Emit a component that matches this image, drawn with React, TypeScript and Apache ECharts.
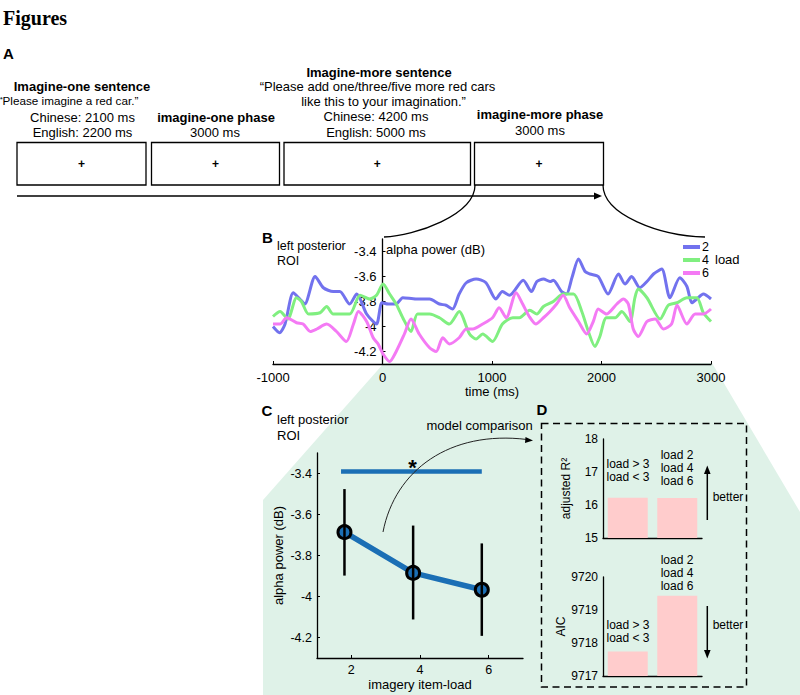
import React, { useEffect, useRef } from "react";
import * as echarts from "echarts";

const FONT = "'Liberation Sans', Arial, Helvetica, sans-serif";

// Panel B: alpha power time courses
const tLoad2 = [-1000, -940, -890, -815, -755, -710, -615, -540, -450, -390, -300, -235, -145, -55, -5, 55, 125, 185, 305, 430, 520, 580, 640, 700, 765, 855, 945, 1035, 1095, 1160, 1285, 1360, 1410, 1470, 1530, 1560, 1635, 1680, 1730, 1790, 1850, 1895, 1970, 2060, 2155, 2215, 2275, 2350, 2415, 2475, 2550, 2625, 2715, 2780, 2825, 2870, 2930, 3000];
const vLoad2 = [-4.0, -4.05, -3.98, -3.73, -3.78, -3.82, -3.6, -3.69, -3.72, -3.72, -3.82, -3.74, -3.9, -3.98, -3.81, -3.82, -3.82, -3.77, -3.78, -3.78, -3.82, -3.83, -3.86, -3.74, -3.65, -3.62, -3.65, -3.78, -3.72, -3.75, -3.63, -3.72, -3.64, -3.62, -3.64, -3.63, -3.72, -3.74, -3.61, -3.46, -3.56, -3.58, -3.6, -3.74, -3.58, -3.66, -3.6, -3.69, -3.64, -3.58, -3.54, -3.77, -3.61, -3.68, -3.81, -3.78, -3.74, -3.78];

const tLoad4 = [-1000, -935, -865, -785, -740, -675, -570, -510, -450, -300, -205, -115, -55, 5, 65, 125, 185, 260, 320, 430, 520, 610, 700, 795, 855, 915, 1005, 1095, 1190, 1250, 1345, 1410, 1470, 1560, 1650, 1745, 1820, 1880, 1940, 1985, 2045, 2125, 2185, 2260, 2305, 2335, 2415, 2535, 2610, 2690, 2780, 2870, 2930, 3000];
const vLoad4 = [-3.92, -3.88, -3.94, -3.77, -3.8, -3.9, -3.89, -3.84, -3.9, -3.9, -3.75, -3.78, -3.75, -3.66, -3.74, -3.82, -3.93, -4.04, -3.9, -3.9, -3.93, -3.98, -3.88, -4.06, -4.1, -4.06, -4.12, -3.98, -3.93, -3.93, -3.87, -3.9, -3.84, -3.8, -3.74, -3.74, -3.88, -4.04, -4.16, -4.08, -3.93, -3.93, -3.88, -3.96, -3.77, -3.7, -3.77, -3.94, -3.83, -3.81, -3.77, -3.77, -3.89, -3.96];

const tLoad6 = [-1000, -935, -875, -785, -725, -660, -600, -510, -420, -330, -265, -220, -145, -85, -40, 5, 65, 125, 200, 260, 335, 430, 490, 550, 610, 700, 765, 825, 915, 1005, 1065, 1130, 1220, 1280, 1340, 1400, 1470, 1530, 1590, 1650, 1710, 1790, 1865, 1925, 1970, 2045, 2140, 2200, 2245, 2290, 2335, 2415, 2490, 2565, 2640, 2690, 2780, 2855, 2930, 3000];
const vLoad6 = [-3.98, -3.98, -3.93, -3.97, -3.98, -4.04, -4.02, -3.98, -4.04, -4.12, -3.98, -3.88, -3.96, -4.09, -4.14, -4.22, -4.28, -4.2, -4.06, -3.94, -4.06, -4.17, -4.2, -4.09, -4.14, -4.09, -4.02, -4.02, -3.98, -3.93, -3.85, -3.93, -3.73, -3.82, -3.92, -3.98, -3.93, -3.88, -3.82, -3.75, -3.85, -3.96, -4.06, -3.96, -3.86, -3.9, -3.82, -3.78, -3.82, -4.02, -4.08, -3.96, -3.94, -4.02, -3.98, -3.83, -3.98, -3.9, -3.9, -3.86];

const bXTicks = [-1000, 0, 1000, 2000, 3000];
const alphaTicks = [-4.2, -4, -3.8, -3.6, -3.4];

// Panel C: mean alpha power by item-load
const loadX = [1.8, 3.8, 5.8];
const loadTicks = [2, 4, 6];
const loadMean = [-3.686, -3.885, -3.967];
const errHigh = [-3.476, -3.654, -3.741];
const errLow = [-3.898, -4.112, -4.192];
const sigX = [1.7, 5.8];
const sigY = -3.39;

// Panel D: model comparison
const models = ["load > 3 / load < 3", "load 2 / load 4 / load 6"];
const adjR2 = [16.22, 16.21];
const aic = [9717.74, 9719.43];

const BLUE_C = "#1b6fb5";

const plain = (v: number) => String(v);

function txt(text: string, x: number, y: number, size = 13, extra: any = {}) {
  const align = extra.align || "center";
  return {
    type: "text",
    x,
    y,
    z: 50,
    style: {
      text,
      fontSize: size,
      fontFamily: FONT,
      fontWeight: extra.bold ? "bold" : "normal",
      fill: "#000",
      align,
      textAlign: align,
      verticalAlign: "middle",
      textVerticalAlign: "middle",
      ...(extra.style || {}),
    },
  };
}

function seg(x1: number, y1: number, x2: number, y2: number, w = 1.3, extra: any = {}) {
  return {
    type: "line",
    z: 50,
    shape: { x1, y1, x2, y2 },
    style: { stroke: "#000", lineWidth: w, ...extra },
  };
}

function tri(points: number[][]) {
  return { type: "polygon", z: 50, shape: { points }, style: { fill: "#000" } };
}

function box(x: number, y: number, w: number, h: number) {
  return {
    type: "rect",
    z: 50,
    shape: { x, y, width: w, height: h },
    style: { fill: "#fff", stroke: "#000", lineWidth: 1.3 },
  };
}

export default function App() {
  const ref = useRef<HTMLDivElement>(null);

  useEffect(() => {
    if (!ref.current) return;
    const chart = echarts.init(ref.current, null, { renderer: "svg" });

    const axisLine = { lineStyle: { color: "#000", width: 1.3 } };
    const pairs = (t: number[], v: number[]) => t.map((x, i) => [x, v[i]]);

    const boxes = [
      [17, 142.5, 129, 42.5],
      [151.5, 142.5, 128, 42.5],
      [284, 142.5, 186.5, 42.5],
      [474.5, 142.5, 129, 42.5],
    ];

    const graphic: any[] = [
      // green connector area behind panels C and D
      {
        type: "polygon",
        z: -10,
        silent: true,
        shape: {
          points: [
            [384, 363],
            [712, 363],
            [800, 512],
            [800, 695],
            [263, 695],
            [263, 500],
          ],
        },
        style: { fill: "#dff2e8" },
      },
      {
        type: "text",
        x: 3,
        y: 18,
        z: 50,
        style: {
          text: "Figures",
          fontSize: 20,
          fontWeight: "bold",
          fontFamily: "'Liberation Serif', 'Times New Roman', serif",
          fill: "#000",
          align: "left",
          textAlign: "left",
          verticalAlign: "middle",
          textVerticalAlign: "middle",
        },
      },
      txt("A", 3, 53.5, 15, { bold: true, align: "left" }),
      txt("Imagine-one sentence", 82, 86, 13, { bold: true }),
      txt("\u201CPlease imagine a red car.\u201D", 68.5, 100.5, 11.7),
      txt("Chinese: 2100 ms", 82.5, 117, 13),
      txt("English: 2200 ms", 82.5, 132.5, 13),
      txt("imagine-one phase", 216, 117, 13, { bold: true }),
      txt("3000 ms", 215, 132.5, 13),
      txt("Imagine-more sentence", 379, 72.5, 13, { bold: true }),
      txt("\u201CPlease add one/three/five more red cars", 377.5, 86.5, 13),
      txt("like this to your imagination.\u201D", 383.5, 101, 13),
      txt("Chinese: 4200 ms", 376, 116.5, 13),
      txt("English: 5000 ms", 376, 132, 13),
      txt("imagine-more phase", 540, 114, 13, { bold: true }),
      txt("3000 ms", 540, 130, 13),
      ...boxes.map((b) => box(b[0], b[1], b[2], b[3])),
      ...boxes.map((b) => txt("+", b[0] + b[2] / 2, 164, 12, { bold: true })),
      seg(17, 196, 596, 196, 1.4),
      tri([
        [602, 196],
        [594, 192.5],
        [594, 199.5],
      ]),
      {
        type: "bezierCurve",
        z: 50,
        shape: { x1: 475, y1: 185, cpx1: 475, cpy1: 215, cpx2: 415, cpy2: 236, x2: 384, y2: 237 },
        style: { stroke: "#000", lineWidth: 1.3, fill: "none" },
      },
      {
        type: "bezierCurve",
        z: 50,
        shape: { x1: 603, y1: 185, cpx1: 603, cpy1: 215, cpx2: 660, cpy2: 236, x2: 705, y2: 237 },
        style: { stroke: "#000", lineWidth: 1.3, fill: "none" },
      },
      // Panel B labels
      txt("B", 262, 237, 15, { bold: true, align: "left" }),
      txt("left posterior\nROI", 277, 253.5, 12.5, { align: "left", style: { lineHeight: 14.5 } }),
      txt("alpha power (dB)", 386, 249, 13, { align: "left" }),
      txt("load", 715, 259.5, 13, { align: "left" }),
      // Panel C labels
      txt("C", 261.5, 410, 15, { bold: true, align: "left" }),
      txt("left posterior\nROI", 277, 427, 13, { align: "left", style: { lineHeight: 16 } }),
      txt("*", 412.5, 467, 22, { bold: true }),
      txt("model comparison", 479.5, 425, 13),
      {
        type: "bezierCurve",
        z: 50,
        shape: { x1: 383, y1: 532, cpx1: 395, cpy1: 470, cpx2: 450, cpy2: 430, x2: 527, y2: 439.5 },
        style: { stroke: "#222", lineWidth: 1, fill: "none" },
      },
      tri([
        [533, 440.5],
        [525.5, 437],
        [525, 443],
      ]),
      // Panel D
      txt("D", 536.5, 409, 15, { bold: true, align: "left" }),
      {
        type: "rect",
        z: 50,
        shape: { x: 541.5, y: 423.5, width: 205, height: 263.5 },
        style: { fill: "none", stroke: "#000", lineWidth: 1.5, lineDash: [7, 4.5] },
      },
      txt("load > 3\nload < 3", 628, 470, 12, { style: { lineHeight: 13 } }),
      txt("load 2\nload 4\nload 6", 677, 468, 12, { style: { lineHeight: 13 } }),
      txt("better", 728, 496.5, 12),
      seg(707.3, 472, 707.3, 520, 1.5),
      tri([
        [707.3, 465.5],
        [704, 474],
        [710.6, 474],
      ]),
      txt("load 2\nload 4\nload 6", 677, 573, 12, { style: { lineHeight: 12.6 } }),
      txt("load > 3\nload < 3", 628, 631.5, 12, { style: { lineHeight: 13 } }),
      txt("better", 728, 625, 12),
      seg(707.3, 606, 707.3, 652, 1.5),
      tri([
        [707.3, 658.5],
        [704, 650],
        [710.6, 650],
      ]),
    ];

    const option: any = {
      animation: false,
      backgroundColor: "#fff",
      textStyle: { fontFamily: FONT, color: "#000" },
      grid: [
        { left: 273, top: 239, width: 438, height: 125 },
        { left: 317, top: 453, width: 206, height: 205 },
        { left: 603, top: 439, width: 99, height: 99 },
        { left: 603, top: 577, width: 99, height: 99 },
      ],
      legend: {
        data: ["2", "4", "6"],
        orient: "vertical",
        left: 683,
        top: 240.5,
        padding: 0,
        itemGap: 0,
        itemWidth: 17,
        itemHeight: 4,
        icon: "rect",
        selectedMode: false,
        textStyle: { fontSize: 12.5, fontFamily: FONT, color: "#000", lineHeight: 12.6, padding: [0, 0, 0, -3] },
      },
      xAxis: [
        {
          gridIndex: 0,
          type: "value",
          min: -1000,
          max: 3000,
          interval: 1000,
          axisLine: { ...axisLine, onZero: false },
          axisTick: { inside: true, length: 3, lineStyle: { color: "#000" }, customValues: bXTicks },
          axisLabel: { fontSize: 13, color: "#000", margin: 7, fontFamily: FONT, customValues: bXTicks, formatter: plain },
          splitLine: { show: false },
          name: "time (ms)",
          nameLocation: "middle",
          nameGap: 18,
          nameTextStyle: { fontSize: 13, color: "#000", fontFamily: FONT, verticalAlign: "top" },
        },
        {
          gridIndex: 1,
          type: "value",
          min: 1,
          max: 7,
          axisLine: { ...axisLine, onZero: false },
          axisTick: { inside: true, length: 3, lineStyle: { color: "#000" }, customValues: loadTicks },
          axisLabel: { fontSize: 12.5, color: "#000", margin: 5, fontFamily: FONT, customValues: loadTicks, formatter: plain },
          splitLine: { show: false },
          name: "imagery item-load",
          nameLocation: "middle",
          nameGap: 20,
          nameTextStyle: { fontSize: 13, color: "#000", fontFamily: FONT, verticalAlign: "top" },
        },
        {
          gridIndex: 2,
          type: "category",
          data: models,
          axisLine: { ...axisLine, onZero: false },
          axisTick: { inside: true, length: 2, alignWithLabel: true, lineStyle: { color: "#000" } },
          axisLabel: { show: false },
        },
        {
          gridIndex: 3,
          type: "category",
          data: models,
          axisLine: { ...axisLine, onZero: false },
          axisTick: { inside: true, length: 2, alignWithLabel: true, lineStyle: { color: "#000" } },
          axisLabel: { show: false },
        },
      ],
      yAxis: [
        {
          gridIndex: 0,
          type: "value",
          min: -4.3,
          max: -3.3,
          offset: -109.5,
          axisLine: { ...axisLine, onZero: false },
          axisTick: { show: true, inside: true, length: 3, lineStyle: { color: "#000" }, customValues: alphaTicks },
          axisLabel: { fontSize: 13, color: "#000", margin: 6, fontFamily: FONT, customValues: alphaTicks, formatter: plain },
          splitLine: { show: false },
        },
        {
          gridIndex: 1,
          type: "value",
          min: -4.3,
          max: -3.3,
          axisLine: { ...axisLine, onZero: false },
          axisTick: { show: true, inside: true, length: 3, lineStyle: { color: "#000" }, customValues: alphaTicks },
          axisLabel: { fontSize: 12.5, color: "#000", margin: 5, fontFamily: FONT, customValues: alphaTicks, formatter: plain },
          splitLine: { show: false },
          name: "alpha power (dB)",
          nameLocation: "middle",
          nameGap: 32,
          nameRotate: 90,
          nameTextStyle: { fontSize: 13, color: "#000", fontFamily: FONT },
        },
        {
          gridIndex: 2,
          type: "value",
          min: 15,
          max: 18,
          interval: 1,
          axisLine: { ...axisLine, show: true, onZero: false },
          axisTick: { show: false },
          axisLabel: { fontSize: 12, color: "#000", margin: 5, fontFamily: FONT, formatter: plain },
          splitLine: { show: false },
          name: "adjusted R\u00B2",
          nameLocation: "middle",
          nameGap: 31,
          nameRotate: 90,
          nameTextStyle: { fontSize: 12, color: "#000", fontFamily: FONT },
        },
        {
          gridIndex: 3,
          type: "value",
          min: 9717,
          max: 9720,
          interval: 1,
          axisLine: { ...axisLine, show: true, onZero: false },
          axisTick: { show: false },
          axisLabel: { fontSize: 12, color: "#000", margin: 5, fontFamily: FONT, formatter: plain },
          splitLine: { show: false },
          name: "AIC",
          nameLocation: "middle",
          nameGap: 33,
          nameRotate: 90,
          nameTextStyle: { fontSize: 12, color: "#000", fontFamily: FONT },
        },
      ],
      series: [
        {
          name: "2",
          type: "line",
          xAxisIndex: 0,
          yAxisIndex: 0,
          data: pairs(tLoad2, vLoad2),
          showSymbol: false,
          smooth: 0.25,
          color: "#7272ee",
          lineStyle: { width: 3, color: "#7272ee" },
          z: 3,
        },
        {
          name: "4",
          type: "line",
          xAxisIndex: 0,
          yAxisIndex: 0,
          data: pairs(tLoad4, vLoad4),
          showSymbol: false,
          smooth: 0.25,
          color: "#80ef80",
          lineStyle: { width: 3, color: "#80ef80" },
          z: 3,
        },
        {
          name: "6",
          type: "line",
          xAxisIndex: 0,
          yAxisIndex: 0,
          data: pairs(tLoad6, vLoad6),
          showSymbol: false,
          smooth: 0.25,
          color: "#f47af4",
          lineStyle: { width: 3, color: "#f47af4" },
          z: 3,
        },
        {
          name: "significance",
          type: "line",
          xAxisIndex: 1,
          yAxisIndex: 1,
          data: sigX.map((x) => [x, sigY]),
          showSymbol: false,
          symbol: "none",
          lineStyle: { width: 4.5, color: BLUE_C },
          z: 3,
        },
        {
          name: "mean",
          type: "line",
          xAxisIndex: 1,
          yAxisIndex: 1,
          data: loadX.map((x, i) => [x, loadMean[i]]),
          symbol: "circle",
          symbolSize: 13,
          showSymbol: true,
          lineStyle: { width: 5.5, color: BLUE_C },
          itemStyle: { color: BLUE_C, borderColor: "#000", borderWidth: 3 },
          z: 4,
        },
        {
          name: "error",
          type: "custom",
          xAxisIndex: 1,
          yAxisIndex: 1,
          data: loadX.map((x, i) => [x, errHigh[i], errLow[i]]),
          encode: { x: 0, y: [1, 2] },
          z: 6,
          renderItem: (params: any, api: any) => {
            const x = api.value(0);
            const top = api.coord([x, api.value(1)]);
            const bot = api.coord([x, api.value(2)]);
            return {
              type: "line",
              shape: { x1: top[0], y1: top[1], x2: bot[0], y2: bot[1] },
              style: { stroke: "#000", lineWidth: 2.5 },
            };
          },
        },
        {
          name: "adjusted R2",
          type: "bar",
          xAxisIndex: 2,
          yAxisIndex: 2,
          data: adjR2,
          barWidth: 40,
          itemStyle: { color: "#ffcccc" },
        },
        {
          name: "AIC",
          type: "bar",
          xAxisIndex: 3,
          yAxisIndex: 3,
          data: aic,
          barWidth: 40,
          itemStyle: { color: "#ffcccc" },
        },
      ],
      graphic,
    };

    chart.setOption(option);
    return () => chart.dispose();
  }, []);

  return (
    <div
      ref={ref}
      style={{ position: "fixed", left: 0, top: 0, width: 800, height: 695, background: "#fff" }}
    />
  );
}
